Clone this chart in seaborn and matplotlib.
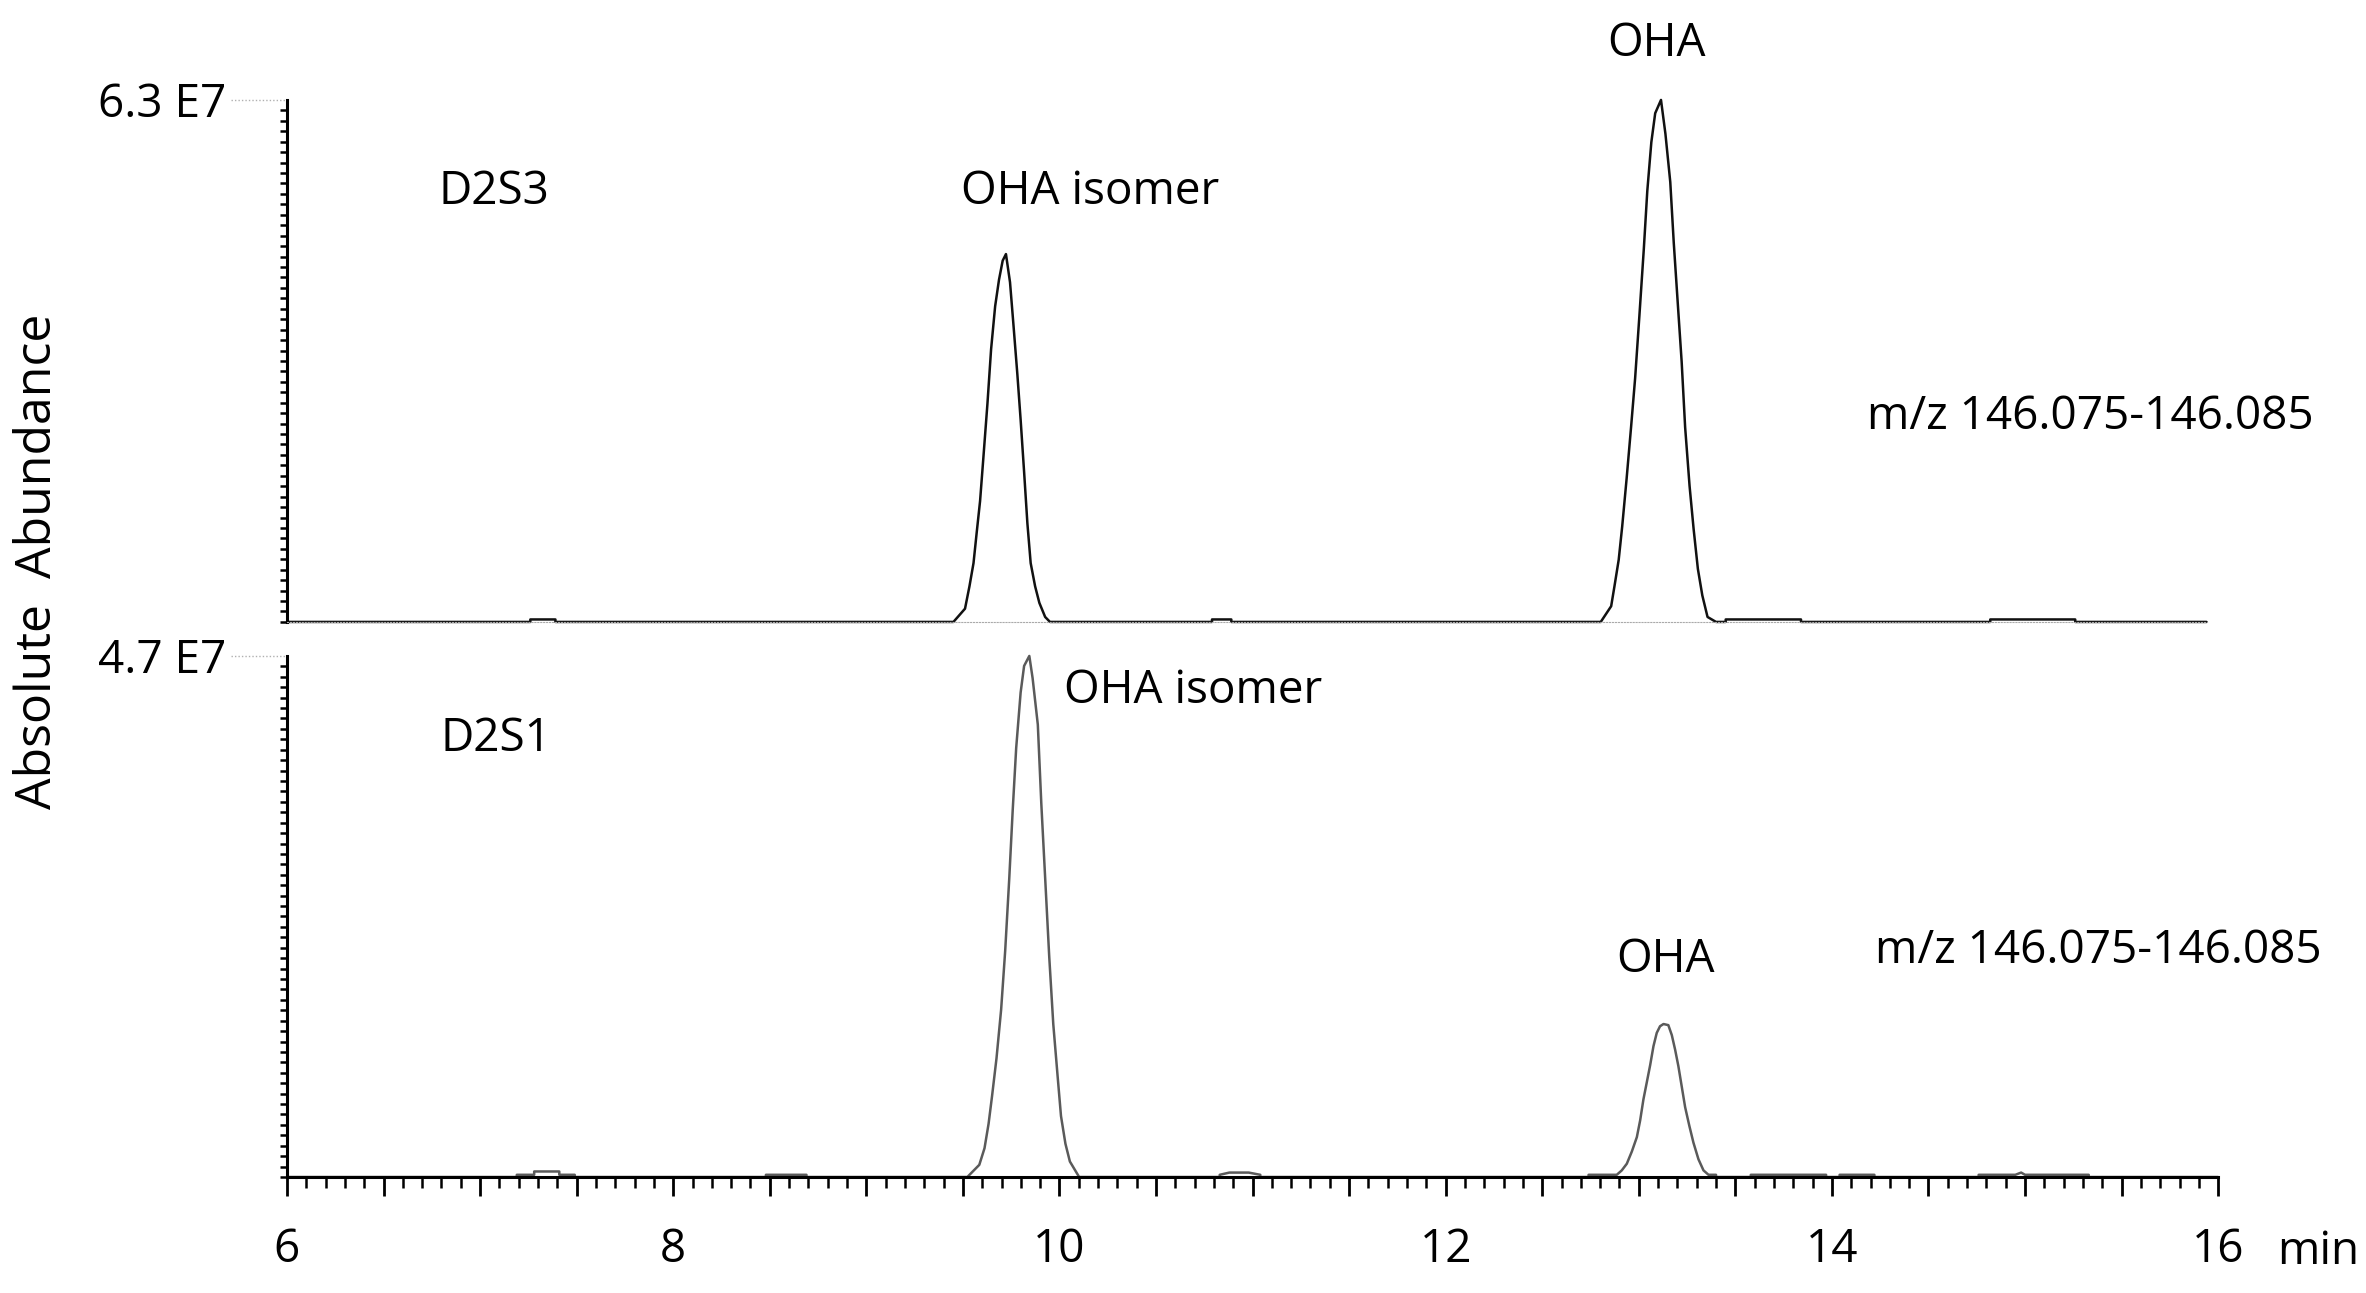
import numpy as np
import pandas as pd
import matplotlib
matplotlib.use("Agg")
import matplotlib.pyplot as plt
import seaborn as sns
from matplotlib.ticker import MultipleLocator, FuncFormatter

# ---- data (retention time in min, abundance in units of 1E7) ----
full_scale = {"D2S3": 6.3, "D2S1": 4.7}

d2s3_time = [6.00, 7.26, 7.26, 7.39, 7.39,
             9.451, 9.511, 9.534, 9.555, 9.572, 9.589, 9.606, 9.627, 9.646, 9.667, 9.687, 9.706,
             9.723, 9.744, 9.761, 9.782, 9.799, 9.817, 9.834, 9.851, 9.874, 9.896, 9.926, 9.951,
             10.79, 10.79, 10.89, 10.89,
             12.803, 12.857, 12.874, 12.896, 12.914, 12.937, 12.960, 12.981, 13.003, 13.026, 13.044,
             13.065, 13.085, 13.115, 13.138, 13.163, 13.181, 13.204, 13.222, 13.240, 13.263, 13.284,
             13.306, 13.329, 13.356, 13.400,
             13.45, 13.45, 13.84, 13.84,
             14.82, 14.82, 15.26, 15.26, 15.94]
d2s3_signal = [0, 0, 0.03, 0.03, 0,
               0, 0.16, 0.43, 0.71, 1.09, 1.46, 1.98, 2.63, 3.29, 3.81, 4.13, 4.36,
               4.44, 4.10, 3.61, 2.99, 2.44, 1.81, 1.19, 0.71, 0.43, 0.23, 0.06, 0,
               0, 0.03, 0.03, 0,
               0, 0.19, 0.43, 0.75, 1.15, 1.73, 2.35, 2.94, 3.69, 4.50, 5.20,
               5.79, 6.14, 6.30, 5.89, 5.31, 4.58, 3.77, 3.14, 2.35, 1.64, 1.12,
               0.64, 0.32, 0.06, 0,
               0, 0.03, 0.03, 0,
               0, 0.03, 0.03, 0, 0]

d2s1_time = [6.00, 7.19, 7.19, 7.28, 7.28, 7.41, 7.41, 7.49, 7.49,
             8.48, 8.48, 8.69, 8.69,
             9.523, 9.585, 9.612, 9.633, 9.651, 9.674, 9.698, 9.719, 9.740, 9.758, 9.776, 9.799,
             9.817, 9.844, 9.861, 9.888, 9.906, 9.928, 9.947, 9.968, 9.990, 10.008, 10.031, 10.054,
             10.102,
             10.83, 10.83, 10.88, 10.98, 11.04, 11.04,
             12.74, 12.74, 12.886, 12.912, 12.938, 12.964, 12.990, 13.007, 13.024, 13.041, 13.059,
             13.076, 13.093, 13.110, 13.128, 13.153, 13.171, 13.188, 13.205, 13.223, 13.240, 13.262,
             13.283, 13.309, 13.335, 13.361, 13.40, 13.40,
             13.58, 13.58, 13.97, 13.97, 14.04, 14.04, 14.22, 14.22,
             14.76, 14.76, 14.95, 14.98, 15.00, 15.33, 15.33, 16.0]
d2s1_signal = [0, 0, 0.02, 0.02, 0.05, 0.05, 0.02, 0.02, 0,
               0, 0.02, 0.02, 0,
               0, 0.11, 0.26, 0.48, 0.73, 1.07, 1.51, 2.04, 2.69, 3.31, 3.87, 4.37,
               4.61, 4.70, 4.50, 4.08, 3.37, 2.63, 1.99, 1.38, 0.92, 0.55, 0.30, 0.14,
               0,
               0, 0.02, 0.04, 0.04, 0.02, 0,
               0, 0.02, 0.02, 0.06, 0.12, 0.23, 0.36, 0.51, 0.70, 0.85, 1.01,
               1.18, 1.30, 1.36, 1.38, 1.37, 1.28, 1.15, 1.00, 0.81, 0.63, 0.46,
               0.31, 0.16, 0.06, 0.02, 0.02, 0,
               0, 0.02, 0.02, 0, 0, 0.02, 0.02, 0,
               0, 0.02, 0.02, 0.04, 0.02, 0.02, 0, 0]

mz_label = "m/z 146.075-146.085"
peak_labels = {
    "D2S3": [("D2S3", 7.07, 5.19), ("OHA isomer", 10.16, 5.19), ("OHA", 13.09, 6.98), (mz_label, 15.34, 2.47)],
    "D2S1": [("D2S1", 7.08, 3.95), ("OHA isomer", 10.69, 4.38), ("OHA", 13.14, 1.96), (mz_label, 15.38, 2.04)],
}

sns.set_style("white")
plt.rcParams['font.family'] = ['Open Sans', 'DejaVu Sans']
plt.rcParams['text.color'] = 'black'
plt.rcParams['xtick.color'] = 'black'
plt.rcParams['ytick.color'] = 'black'
FS = 33

fig = plt.figure(figsize=(23.66, 12.93), dpi=100)
ax_top = fig.add_axes([0.1213, 0.519, 0.8162, 0.4037])
ax_bot = fig.add_axes([0.1213, 0.0897, 0.8162, 0.4030])

panels = [
    (ax_top, "D2S3", d2s3_time, d2s3_signal, "#111111"),
    (ax_bot, "D2S1", d2s1_time, d2s1_signal, "#5a5a5a"),
]

for ax, name, t, s, col in panels:
    df = pd.DataFrame({"time": t, "signal": s})
    sns.lineplot(data=df, x="time", y="signal", estimator=None, sort=False,
                 color=col, linewidth=1.8, ax=ax, clip_on=False)
    ymax = full_scale[name]
    ax.set_xlim(6, 16)
    ax.set_ylim(0, ymax)
    ax.set_xlabel("")
    ax.set_ylabel("")
    for sp in ["top", "right"]:
        ax.spines[sp].set_visible(False)
    ax.spines["left"].set_linewidth(2.2)
    ax.spines["left"].set_color("black")

    # y scale: only the full-scale value, with dotted leader
    ax.set_yticks([ymax], [f"{ymax:.1f} E7"])
    ax.yaxis.set_minor_locator(MultipleLocator(ymax / 50))
    ax.tick_params(axis="y", which="major", left=True, length=0, pad=44, labelsize=FS)
    ax.tick_params(axis="y", which="minor", left=True, direction="out", length=5, width=1.8, color="black")
    ax.plot([-0.029, 0], [1, 1], transform=ax.transAxes, ls=(0, (1, 1.5)),
            color="#b0b0b0", lw=1.0, clip_on=False)

    for txt, x, y in peak_labels[name]:
        ax.text(x, y, txt, fontsize=FS, ha="center", va="center")

# top panel: no time axis
ax_top.spines["bottom"].set_linestyle(":")
ax_top.spines["bottom"].set_color("#aaaaaa")
ax_top.spines["bottom"].set_bounds(6, 15.94)
ax_top.set_xticks([])

# bottom panel: time axis
ax_bot.spines["bottom"].set_linewidth(2.2)
ax_bot.spines["bottom"].set_color("black")
ax_bot.xaxis.set_major_locator(MultipleLocator(0.5))
ax_bot.xaxis.set_minor_locator(MultipleLocator(0.1))
ax_bot.xaxis.set_major_formatter(FuncFormatter(lambda v, p: f"{v:.0f}" if abs(v / 2 - round(v / 2)) < 1e-6 else ""))
ax_bot.tick_params(axis="x", which="major", bottom=True, direction="out", length=14, width=2.0,
                   color="black", labelsize=FS, pad=22)
ax_bot.tick_params(axis="x", which="minor", bottom=True, direction="out", length=8, width=1.8, color="black")
ax_bot.text(16.52, -0.144, "min", transform=ax_bot.get_xaxis_transform(),
            fontsize=FS, ha="center", va="center")

fig.text(0.016, 0.566, "Absolute  Abundance", rotation=90, fontsize=36,
         ha="center", va="center")

fig.savefig("out.png", dpi=100)
